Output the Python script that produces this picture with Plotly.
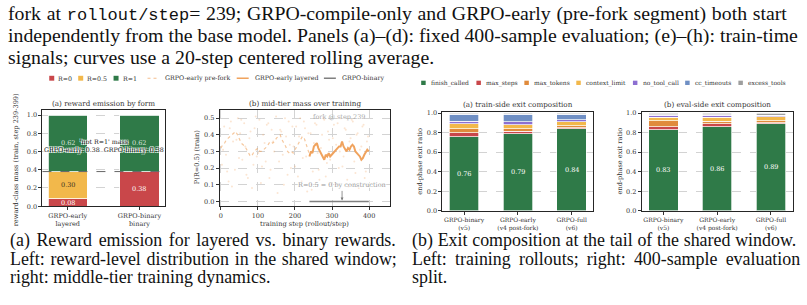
import plotly.graph_objects as go

# ---------------- data ----------------
forms = ["GRPO-early<br>layered", "GRPO-binary<br>binary"]
reward_levels = ["R=0", "R=0.5", "R=1"]
mass_r0 = [0.08, 0.38]
mass_r05 = [0.30, 0.00]
mass_r1 = [0.62, 0.62]
not_r1_mass = [0.38, 0.38]

fork_step = 239
prefork_steps = [0, 5, 10, 15, 20, 25, 30, 35, 40, 45, 50, 55, 60, 65, 70, 75, 80, 85, 90, 95,
                 100, 105, 110, 115, 120, 125, 130, 135, 140, 145, 150, 155, 160, 165, 170, 175,
                 180, 185, 190, 195, 200, 205, 210, 215, 220, 225, 230, 235, 239]
prefork_mid = [0.32, 0.34, 0.35, 0.37, 0.38, 0.39, 0.40, 0.41, 0.42, 0.40, 0.37, 0.35, 0.34, 0.33,
               0.31, 0.29, 0.27, 0.28, 0.30, 0.31, 0.32, 0.30, 0.30, 0.31, 0.32, 0.33, 0.35, 0.36,
               0.35, 0.36, 0.38, 0.39, 0.40, 0.37, 0.35, 0.33, 0.30, 0.29, 0.30, 0.29, 0.31, 0.33,
               0.35, 0.37, 0.39, 0.38, 0.35, 0.31, 0.28]
layered_steps = [239, 243, 247, 251, 255, 259, 263, 267, 271, 275, 279, 283, 287, 291, 295, 299,
                 303, 307, 311, 315, 319, 323, 327, 331, 335, 339, 343, 347, 351, 355, 359, 363,
                 367, 371, 375, 379, 383, 387, 391, 395, 399]
layered_mid = [0.27, 0.30, 0.29, 0.33, 0.34, 0.35, 0.32, 0.30, 0.28, 0.27, 0.25, 0.28, 0.27, 0.29,
               0.27, 0.28, 0.29, 0.30, 0.31, 0.32, 0.33, 0.33, 0.36, 0.33, 0.31, 0.30, 0.32, 0.31,
               0.33, 0.34, 0.33, 0.30, 0.29, 0.28, 0.27, 0.25, 0.26, 0.28, 0.30, 0.31, 0.30]
binary_steps = [239, 399]
binary_mid = [0.0, 0.0]
raw_steps_a = [3, 9, 14, 21, 27, 33, 38, 46, 52, 58, 63, 69, 77, 84, 91, 97, 104, 111, 118, 124,
               131, 137, 144, 149, 157, 163, 170, 176, 183, 189, 196, 203, 208, 214, 221, 227, 233,
               242, 248, 254, 261, 266, 273, 279, 286, 292, 298, 305, 311, 318, 324, 331, 337, 344,
               350, 356, 363, 369, 375, 382, 388, 394]
raw_mid_a = [0.22, 0.45, 0.28, 0.12, 0.48, 0.36, 0.19, 0.50, 0.41, 0.25, 0.47, 0.16, 0.38, 0.08,
             0.44, 0.27, 0.49, 0.21, 0.35, 0.46, 0.14, 0.43, 0.30, 0.51, 0.24, 0.42, 0.10, 0.39,
             0.48, 0.20, 0.33, 0.45, 0.15, 0.50, 0.26, 0.44, 0.06, 0.41, 0.18, 0.47, 0.29, 0.13,
             0.40, 0.49, 0.23, 0.37, 0.11, 0.46, 0.34, 0.20, 0.50, 0.27, 0.43, 0.09, 0.38, 0.48,
             0.17, 0.41, 0.31, 0.45, 0.14, 0.36]
raw_steps_b = [6, 17, 24, 30, 42, 49, 55, 66, 73, 80, 88, 94, 101, 108, 114, 121, 128, 134, 141,
               153, 160, 167, 173, 180, 186, 193, 200, 211, 218, 224, 230, 236, 245, 251, 258, 264,
               270, 276, 283, 289, 295, 302, 308, 315, 321, 328, 334, 341, 347, 353, 360, 366, 372,
               379, 385, 391, 397]
raw_mid_b = [0.31, 0.18, 0.44, 0.09, 0.37, 0.26, 0.49, 0.33, 0.14, 0.42, 0.22, 0.51, 0.29, 0.11,
             0.40, 0.24, 0.47, 0.19, 0.36, 0.05, 0.43, 0.28, 0.50, 0.16, 0.34, 0.45, 0.21, 0.39,
             0.12, 0.48, 0.27, 0.41, 0.07, 0.35, 0.46, 0.19, 0.32, 0.50, 0.15, 0.42, 0.25, 0.38,
             0.10, 0.47, 0.30, 0.21, 0.44, 0.13, 0.36, 0.49, 0.24, 0.40, 0.08, 0.33, 0.46, 0.18,
             0.39]
step_ticks = [0, 100, 200, 300, 400]

runs = ["GRPO-binary<br>(v5)", "GRPO-early<br>(v4 post-fork)", "GRPO-full<br>(v6)"]
exit_kinds = ["finish_called", "max_steps", "max_tokens", "context_limit",
              "no_tool_call", "cc_timeouts", "excess_tools"]
train_finish_called = [0.76, 0.79, 0.84]
train_max_steps = [0.04, 0.025, 0.01]
train_max_tokens = [0.04, 0.025, 0.02]
train_context_limit = [0.05, 0.04, 0.04]
train_no_tool_call = [0.025, 0.03, 0.02]
train_cc_timeouts = [0.075, 0.08, 0.06]
train_excess_tools = [0.01, 0.01, 0.01]
eval_finish_called = [0.83, 0.86, 0.89]
eval_max_steps = [0.03, 0.03, 0.01]
eval_max_tokens = [0.06, 0.025, 0.02]
eval_context_limit = [0.04, 0.045, 0.045]
eval_no_tool_call = [0.02, 0.02, 0.01]
eval_cc_timeouts = [0.005, 0.005, 0.005]
eval_excess_tools = [0.015, 0.015, 0.02]

ratio_ticks = [0.0, 0.2, 0.4, 0.6, 0.8, 1.0]
mid_ticks = [0.0, 0.1, 0.2, 0.3, 0.4, 0.5]

# ---------------- styling ----------------
W, H = 807, 305
SERIF = "DejaVu Serif"
TIMES = "Liberation Serif"
C_RED, C_YEL, C_GRN = "#c9474a", "#f2b84b", "#2f7a48"
C_ORG, C_PUR, C_BLU, C_GRY = "#e08b3c", "#8c6fd1", "#6f8fc4", "#9e9e9e"
C_LINE = "#f0a35e"
reward_colors = [C_RED, C_YEL, C_GRN]
exit_colors = [C_GRN, C_RED, C_ORG, C_YEL, C_PUR, C_BLU, C_GRY]


def fx(p):
    return p / W


def fy(p):
    return 1 - p / H


fig = go.Figure()

# (a) reward emission stacked bars
for name, vals, col in zip(reward_levels, [mass_r0, mass_r05, mass_r1], reward_colors):
    fig.add_bar(x=[0, 1], y=vals, name=name, width=0.55, xaxis="x", yaxis="y",
                marker=dict(color=col, line=dict(color="white", width=0.8)))

# (b) mid-tier mass
for rs, rm in ((raw_steps_a, raw_mid_a), (raw_steps_b, raw_mid_b)):
    fig.add_scatter(x=rs, y=rm, mode="markers", xaxis="x2", yaxis="y2",
                    marker=dict(size=2, color="rgba(240,163,94,0.28)"))
fig.add_scatter(x=prefork_steps, y=prefork_mid, mode="lines", xaxis="x2", yaxis="y2",
                line=dict(color="rgba(240,163,94,0.6)", width=1.2, dash="dot"))
fig.add_scatter(x=layered_steps, y=layered_mid, mode="lines", xaxis="x2", yaxis="y2",
                line=dict(color=C_LINE, width=2))
fig.add_scatter(x=binary_steps, y=binary_mid, mode="lines", xaxis="x2", yaxis="y2",
                line=dict(color="#808080", width=1.5))

# (c),(d) exit composition
train_sets = [train_finish_called, train_max_steps, train_max_tokens, train_context_limit,
              train_no_tool_call, train_cc_timeouts, train_excess_tools]
eval_sets = [eval_finish_called, eval_max_steps, eval_max_tokens, eval_context_limit,
             eval_no_tool_call, eval_cc_timeouts, eval_excess_tools]
for ax, sets in (("3", train_sets), ("4", eval_sets)):
    for name, vals, col in zip(exit_kinds, sets, exit_colors):
        fig.add_bar(x=[0, 1, 2], y=vals, name=name, width=0.55, xaxis="x" + ax, yaxis="y" + ax,
                    marker=dict(color=col, line=dict(color="white", width=0.7)))

ann = []


def text(x, y, t, size, color="#333", family=SERIF, xa="center", ya="middle", angle=0, **kw):
    ann.append(dict(x=fx(x), y=fy(y), xref="paper", yref="paper", text=t, showarrow=False,
                    xanchor=xa, yanchor=ya, textangle=angle,
                    font=dict(size=size, color=color, family=family), **kw))


# bar value labels
for i in range(2):
    ann.append(dict(x=i, y=mass_r0[i] / 2, xref="x", yref="y", text=f"{mass_r0[i]:.2f}",
                    showarrow=False, font=dict(size=6.5, color="white", family=SERIF)))
    if mass_r05[i] > 0:
        ann.append(dict(x=i, y=mass_r0[i] + mass_r05[i] / 2, xref="x", yref="y",
                        text=f"{mass_r05[i]:.2f}", showarrow=False,
                        font=dict(size=6.5, color="#3a3020", family=SERIF)))
    ann.append(dict(x=i, y=mass_r0[i] + mass_r05[i] + mass_r1[i] / 2, xref="x", yref="y",
                    text=f"{mass_r1[i]:.2f}", showarrow=False,
                    font=dict(size=6.5, color="rgba(255,255,255,0.8)", family=SERIF)))
outline = "-1px -1px 0 #fff, 1px -1px 0 #fff, -1px 1px 0 #fff, 1px 1px 0 #fff"
ann.append(dict(x=0.5, y=0.665, xref="x", yref="y", showarrow=False,
                text=f"'not R=1' mass<br>GRPO-early: {not_r1_mass[0]:.2f}\u00a0\u00a0GRPO-binary: {not_r1_mass[1]:.2f}",
                font=dict(size=6.3, color="#222", family=SERIF, shadow=outline)))

for ax, sets in (("3", train_sets), ("4", eval_sets)):
    for i, v in enumerate(sets[0]):
        ann.append(dict(x=i, y=v / 2, xref="x" + ax, yref="y" + ax, text=f"{v:.2f}",
                        showarrow=False, font=dict(size=6.5, color="white", family=SERIF)))

# (b) annotations
ann.append(dict(x=fork_step + 5, y=0.505, xref="x2", yref="y2", text=f"fork @ step {fork_step}",
                showarrow=False, xanchor="left", font=dict(size=6.5, color="#aaaaaa", family=SERIF)))
ann.append(dict(x=327, y=0.006, xref="x2", yref="y2", text="R=0.5 = 0 by construction",
                showarrow=True, ax=0, ay=-15, arrowhead=2, arrowsize=0.7, arrowwidth=0.8,
                arrowcolor="#777", standoff=0,
                font=dict(size=6.5, color="#9a9a9a", family=SERIF, shadow=outline)))

# titles
text(102.7, 102.5, "(a) reward emission by form", 7.2)
text(304, 102.5, "(b) mid-tier mass over training", 7.2)
text(517.5, 104, "(a) train-side exit composition", 7.2)
text(717, 104, "(b) eval-side exit composition", 7.2)
# axis titles
text(15, 160, "reward-class mass (train, step 239-399)", 6.6, angle=-90)
text(197, 158, "P(R=0.5) (train)", 6.6, angle=-90)
text(304, 226.5, "training step (rollout/step)", 6.6)
text(420, 162, "end-phase exit ratio", 6.6, angle=-90)
text(620, 162, "end-phase exit ratio", 6.6, angle=-90)

# legends (manual)
shapes = []
left_legend = [("sq", C_RED, 48.3, "R=0"), ("sq", C_YEL, 77.3, "R=0.5"), ("sq", C_GRN, 112.7, "R=1"),
               ("dot", "rgba(240,163,94,0.7)", 146.7, "GRPO-early pre-fork"),
               ("ln", C_LINE, 236, "GRPO-early layered"), ("ln", "#808080", 323.3, "GRPO-binary")]
ly = 77
for kind, col, x0, lab in left_legend:
    if kind == "sq":
        shapes.append(dict(type="rect", xref="paper", yref="paper", x0=fx(x0), x1=fx(x0 + 5),
                           y0=fy(ly + 2.5), y1=fy(ly - 2.5), fillcolor=col, line=dict(width=0)))
        text(x0 + 7, ly, lab, 6.3, xa="left")
    else:
        shapes.append(dict(type="line", xref="paper", yref="paper", x0=fx(x0), x1=fx(x0 + 12),
                           y0=fy(ly), y1=fy(ly),
                           line=dict(color=col, width=1.2 if kind == "dot" else 1.5,
                                     dash="dot" if kind == "dot" else "solid")))
        text(x0 + 16, ly, lab, 6.3, xa="left")

right_x = [420.7, 476, 524, 576, 632.7, 685, 738.3]
ry = 81.7
for lab, col, x0 in zip(exit_kinds, exit_colors, right_x):
    shapes.append(dict(type="rect", xref="paper", yref="paper", x0=fx(x0), x1=fx(x0 + 4.5),
                       y0=fy(ry + 2.2), y1=fy(ry - 2.2), fillcolor=col, line=dict(width=0)))
    text(x0 + 8, ry, lab, 6.0, xa="left")

# 0.38 dashed reference line
shapes.append(dict(type="line", xref="x domain", yref="y", x0=0, x1=1, y0=not_r1_mass[0],
                   y1=not_r1_mass[0], line=dict(color="#555", width=0.9, dash="dash"), layer="above"))


# paper text (captions)
def ws(t, px):
    return f'<span style="word-spacing:{px}px">{t}</span>'


FT = 19.8   # top caption
FS = 17.9   # sub-captions
INK = "#111"
mono = '<span style="font-family:Liberation Mono;font-size:17px">rollout/step</span>'
text(5, 11, ws(f"fork at {mono}= 239; GRPO-compile-only and GRPO-early (pre-fork segment) both start", 0.8),
     FT, color=INK, family=TIMES, xa="left")
text(5, 33, "independently from the base model. Panels (a)–(d): fixed 400-sample evaluation; (e)–(h): train-time",
     FT, color=INK, family=TIMES, xa="left")
text(5, 55, "signals; curves use a 20-step centered rolling average.", FT, color=INK, family=TIMES, xa="left")

text(7, 243, ws("(a) Reward emission for layered vs. binary rewards.", 2.1), FS, color=INK, family=TIMES, xa="left")
text(7, 261.7, ws("Left: reward-level distribution in the shared window;", 1.2), FS, color=INK, family=TIMES, xa="left")
text(7, 280, "right: middle-tier training dynamics.", FS, color=INK, family=TIMES, xa="left")
text(410, 243, ws("(b) Exit composition at the tail of the shared window.", 0.3), FS, color=INK, family=TIMES, xa="left")
text(410, 261.7, ws("Left: training rollouts; right: 400-sample evaluation", 3.8), FS, color=INK, family=TIMES, xa="left")
text(410, 280, "split.", FS, color=INK, family=TIMES, xa="left")

tickfont = dict(family=SERIF, size=6.5, color="#333")
axis_common = dict(showline=True, mirror=True, linecolor="#262626", linewidth=1, ticks="outside",
                   ticklen=3, tickwidth=0.8, tickcolor="#333", tickfont=tickfont, zeroline=False)
grid = dict(showgrid=True, gridcolor="#d3d3d3", gridwidth=0.6, griddash="dash")

layout = dict(
    width=W, height=H, margin=dict(l=0, r=0, t=0, b=0), paper_bgcolor="white", plot_bgcolor="white",
    barmode="stack", showlegend=False, annotations=ann, shapes=shapes,
    xaxis=dict(domain=[fx(41.5), fx(164)], range=[-0.3525, 1.3525], tickvals=[0, 1],
               ticktext=forms, showgrid=False, anchor="y", **axis_common),
    yaxis=dict(domain=[fy(208), fy(110)], range=[0, 1.05], tickvals=ratio_ticks,
               ticktext=[f"{v:.1f}" for v in ratio_ticks], anchor="x", **grid, **axis_common),
    xaxis2=dict(domain=[fx(219), fx(389)], range=[-3, 455], tickvals=step_ticks, anchor="y2",
                **grid, **axis_common),
    yaxis2=dict(domain=[fy(207.5), fy(110)], range=[-0.026, 0.546], tickvals=mid_ticks,
                ticktext=[f"{v:.1f}" for v in mid_ticks], anchor="x2", **grid, **axis_common),
    xaxis3=dict(domain=[fx(442), fx(593)], range=[-0.4025, 2.4025], tickvals=[0, 1, 2],
                ticktext=runs, showgrid=False, anchor="y3", **axis_common),
    yaxis3=dict(domain=[fy(212.7), fy(111.7)], range=[0, 1.01], tickvals=ratio_ticks,
                ticktext=[f"{v:.1f}" for v in ratio_ticks], anchor="x3", **grid, **axis_common),
    xaxis4=dict(domain=[fx(641.5), fx(792.5)], range=[-0.4025, 2.4025], tickvals=[0, 1, 2],
                ticktext=runs, showgrid=False, anchor="y4", **axis_common),
    yaxis4=dict(domain=[fy(212.7), fy(111.7)], range=[0, 1.01], tickvals=ratio_ticks,
                ticktext=[f"{v:.1f}" for v in ratio_ticks], anchor="x4", **grid, **axis_common),
)
fig.update_layout(**layout)
fig.update_xaxes(tickfont=dict(size=6.0), selector=dict(anchor="y3"))
fig.update_xaxes(tickfont=dict(size=6.0), selector=dict(anchor="y4"))
fig.write_html("out.html")
